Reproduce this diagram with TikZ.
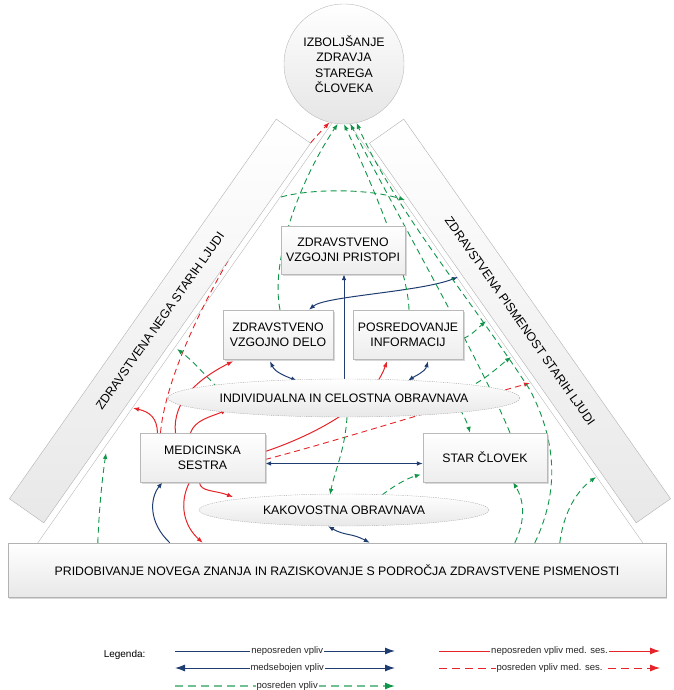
\documentclass[tikz,border=0pt]{standalone}
\usepackage{fontspec}
\setmainfont{Liberation Sans}
\usetikzlibrary{shapes.geometric,arrows.meta,calc,shadows}
\definecolor{navy}{RGB}{31,61,112}
\definecolor{rred}{RGB}{230,35,40}
\definecolor{ggreen}{RGB}{16,150,72}
\pgfdeclarelayer{bgg}
\pgfdeclarelayer{bg}
\pgfsetlayers{bgg,bg,main}
\begin{document}
\begin{tikzpicture}[x=1pt,y=1pt,
  font=\fontsize{12.3}{14.7}\selectfont,
  box/.style={rectangle, draw=gray!55, line width=0.4pt, top color=white, bottom color=gray!14,
    drop shadow={shadow xshift=1.5pt,shadow yshift=-1.5pt,fill=gray!60,opacity=0.5}, align=center, inner sep=2pt},
  oval/.style={ellipse, draw=gray!70, line width=0.4pt, dash pattern=on 1.2pt off 1pt, top color=white, bottom color=gray!18, inner sep=0pt},
  bar/.style={rectangle, draw=gray!60, line width=0.4pt, top color=white, bottom color=gray!18, inner sep=0pt, align=center},
  tip/.style={-{Latex[length=6pt,width=4.6pt]}},
  dtip/.style={{Latex[length=6pt,width=4.6pt]}-{Latex[length=6pt,width=4.6pt]}},
  nav/.style={draw=navy, line width=1pt},
  rs/.style={draw=rred, line width=1pt},
  rd/.style={draw=rred, line width=0.9pt, dash pattern=on 6pt off 4pt},
  gd/.style={draw=ggreen, line width=0.9pt, dash pattern=on 6pt off 4pt},
  legtxt/.style={fill=white, text=black!85, inner sep=1pt, font=\fontsize{9.5}{11}\selectfont},
  bigtip/.style={-{Latex[length=10pt,width=7pt]}},
  bigdtip/.style={{Latex[length=10pt,width=7pt]}-{Latex[length=10pt,width=7pt]}},
]
\useasboundingbox (0,0) rectangle (673,-690);

% main nodes
\node[circle, draw=gray!55, line width=0.4pt, top color=white, bottom color=gray!20, minimum size=120pt,
  align=center, inner sep=0pt, font=\fontsize{12.3}{15.5}\selectfont] (circ) at (344,-64) {IZBOLJŠANJE\\ZDRAVJA\\STAREGA\\ČLOVEKA};
\node[bar, minimum width=464pt, minimum height=42pt, rotate=54.9] (lbar) at (160,-321) {ZDRAVSTVENA NEGA STARIH LJUDI};
\node[bar, minimum width=464pt, minimum height=42pt, rotate=-54.9] (rbar) at (520,-321) {ZDRAVSTVENA PISMENOST STARIH LJUDI};
\node[bar, minimum width=658pt, minimum height=54pt, drop shadow={shadow xshift=1pt,shadow yshift=-1.5pt,fill=gray!60,opacity=0.5}] (bb) at (337,-570)
  {PRIDOBIVANJE NOVEGA ZNANJA IN RAZISKOVANJE S PODROČJA ZDRAVSTVENE PISMENOSTI};
\node[box, minimum width=124pt, minimum height=48pt] (zvp) at (343,-250) {ZDRAVSTVENO\\VZGOJNI PRISTOPI};
\node[box, minimum width=110pt, minimum height=49pt] (zvd) at (278,-334.5) {ZDRAVSTVENO\\VZGOJNO DELO};
\node[box, minimum width=110pt, minimum height=49pt] (pos) at (408,-334.5) {POSREDOVANJE\\INFORMACIJ};
\node[oval, minimum width=288pt, minimum height=38pt] (ind) at (344,-398) {INDIVIDUALNA IN CELOSTNA OBRAVNAVA};
\node[box, minimum width=125pt, minimum height=49pt] (med) at (202.5,-457.5) {MEDICINSKA\\SESTRA};
\node[box, minimum width=124pt, minimum height=49pt] (star) at (485,-457.5) {STAR ČLOVEK};
\node[oval, minimum width=290pt, minimum height=32pt] (kak) at (344,-510) {KAKOVOSTNA OBRAVNAVA};

% free ends on the bars
\coordinate (lr1) at (133,-408);
\coordinate (lg1) at (177,-349);
\coordinate (lg2) at (106,-453);
\coordinate (lg4) at (281,-197);
\coordinate (rn2) at (458,-277);
\coordinate (rg4) at (405,-200);
\coordinate (rr2) at (530,-383);
\coordinate (rg9) at (486,-321);
\coordinate (rg10) at (511,-357);
\coordinate (rg15) at (596,-477);
\coordinate (apex) at (340.5,-111);

\begin{pgfonlayer}{bgg}
\draw[gray!60, line width=0.35pt] ($(bb.north west)+(30,0)$) -- (apex) -- ($(bb.north west)+(635,0)$);
\end{pgfonlayer}

\begin{pgfonlayer}{bg}
% navy
\draw[nav,tip] (ind.north) -- (ind.north |- zvp.south);
\draw[nav,dtip] ($(zvd.north)+(31,0)$) .. controls (325,-296) and (420,-292) .. (rn2);
\draw[nav,dtip] ($(zvd.south)+(-8,-2)$) .. controls (275,-372) and (285,-376) .. ($(ind.north)+(-47,-2)$);
\draw[nav,dtip] ($(pos.south)+(20,-2)$) .. controls (425,-372) and (415,-376) .. ($(ind.north)+(64,-2)$);
\draw[nav,dtip] ($(med.east)+(0,-6)$) -- ($(star.west)+(0,-6)$);
\draw[nav,tip] ($(bb.north west)+(162,0)$) .. controls (148,-522) and (150,-498) .. ($(med.south)+(-40,0)$);
\draw[nav,dtip] ($(kak.south)+(-16,0)$) .. controls (345,-536) and (352,-533) .. ($(bb.north west)+(362,0)$);
% red solid
\draw[rs,tip] ($(med.north)+(-45,0)$) .. controls (157,-418) and (150,-412) .. (lr1);
\draw[rs,tip] ($(med.north)+(-27,0)$) .. controls (172,-400) and (200,-378) .. ($(zvd.south)+(-45,-2)$);
\draw[rs,tip] ($(med.north)+(-12,0)$) .. controls (195,-420) and (210,-417) .. ($(ind.center)+(-117,-12)$);
\draw[rs,tip] ($(med.east)+(0,6)$) .. controls (300,-440) and (370,-410) .. ($(pos.south)+(-21,-2)$);
\draw[rs,tip] ($(med.south)+(-3,0)$) .. controls (200,-492) and (215,-490) .. ($(kak.center)+(-111,13)$);
\draw[rs,tip] ($(med.south)+(-13,0)$) .. controls (178,-505) and (185,-527) .. ($(bb.north west)+(195,0)$);
% red dashed
\draw[rd,tip] ($(med.north)+(-42,0)$) .. controls (168,-350) and (255,-200) .. (circ.256);
\draw[rd,tip] ($(med.east)+(0,-2)$) .. controls (340,-440) and (450,-405) .. (rr2);
% green dashed
\draw[gd,tip] ($(ind.center)+(-126,10)$) .. controls (205,-375) and (192,-360) .. (lg1);
\draw[gd,tip] ($(bb.north west)+(90,0)$) .. controls (99,-510) and (102,-480) .. (lg2);
\draw[gd,tip] ($(zvd.north)+(2,0)$) .. controls (270,-260) and (300,-180) .. (circ.264);
\draw[gd,tip] (lg4) .. controls (310,-189) and (365,-188) .. (rg4);
\draw[gd,tip] ($(pos.north)+(1,0)$) .. controls (408,-270) and (375,-190) .. (circ.270);
\draw[gd,tip] ($(star.north)+(25,0)$) .. controls (480,-360) and (400,-220) .. (circ.276);
\draw[gd,tip] ($(bb.north west)+(527,0)$) .. controls (560,-490) and (556,-440) .. (530,-390)
   .. controls (475,-305) and (395,-210) .. (circ.282);
\draw[gd,tip] ($(pos.east)+(0,-4)$) .. controls (472,-335) and (478,-328) .. (rg9);
\draw[gd,tip] ($(ind.center)+(123,10)$) .. controls (485,-380) and (498,-367) .. (rg10);
\draw[gd,tip] ($(ind.center)+(116,-11)$) .. controls (465,-418) and (468,-425) .. ($(star.north)+(-15,0)$);
\draw[gd,tip] ($(ind.center)+(3,-19)$) .. controls (345,-450) and (335,-470) .. ($(kak.north)+(-14,-1)$);
\draw[gd,tip] ($(kak.center)+(38,15)$) .. controls (395,-485) and (408,-478) .. ($(star.west)+(-2,-17)$);
\draw[gd,tip] ($(bb.north west)+(507,0)$) .. controls (526,-520) and (524,-500) .. ($(star.south)+(28,0)$);
\draw[gd,tip] ($(bb.north west)+(552,0)$) .. controls (564,-510) and (578,-490) .. (rg15);
\end{pgfonlayer}

% legend
\node[anchor=east, font=\fontsize{10}{12}\selectfont] (leg) at (149,-655) {Legenda:};
\coordinate (a1) at (175,-651); \coordinate (b1) at (395,-651);
\coordinate (a2) at (175,-668); \coordinate (b2) at (395,-668);
\coordinate (a3) at (175,-686); \coordinate (b3) at (395,-686);
\coordinate (a4) at (439,-651); \coordinate (b4) at (660,-651);
\coordinate (a5) at (439,-668); \coordinate (b5) at (660,-668);
\draw[navy, line width=1pt, bigtip] (a1) -- (b1) node[legtxt, pos=0.51] (t1) {neposreden vpliv};
\draw[navy, line width=1pt, bigdtip] (a2) -- (b2) node[legtxt, pos=0.51] (t2) {medsebojen vpliv};
\draw[ggreen!60, line width=1.3pt, dash pattern=on 8pt off 5pt, -{Latex[length=10pt,width=7pt,fill=ggreen,color=ggreen]}] (a3) -- (b3) node[legtxt, pos=0.51] (t3) {posreden vpliv};
\draw[rred, line width=1pt, bigtip] (a4) -- (b4) node[legtxt, pos=0.5] (t4) {neposreden vpliv med. ses.};
\draw[rred, line width=0.9pt, dash pattern=on 8pt off 5pt, bigtip] (a5) -- (b5) node[legtxt, pos=0.5] (t5) {posreden vpliv med. ses.};
\end{tikzpicture}
\end{document}
